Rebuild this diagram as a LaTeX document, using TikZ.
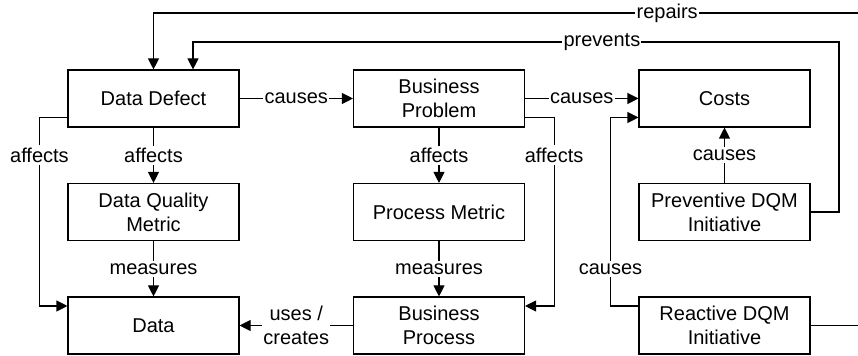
\documentclass[tikz,border=0pt]{standalone}
\usepackage{fontspec}
\setmainfont{Liberation Sans}
\usetikzlibrary{arrows.meta}
\tikzstyle{entity} = [rectangle, minimum width=85.5pt, minimum height=28.5pt, align=center, draw=black, line width=0.55pt, font=\fontsize{10}{12}\selectfont]
\tikzstyle{rel} = [fill=white, inner xsep=0.6pt, inner ysep=1.2pt, align=center, font=\fontsize{10}{12}\selectfont]
\tikzstyle{arrow} = [line width=0.55pt, -{Triangle[length=5.5pt,width=5.5pt]}]

\begin{document}
\begin{tikzpicture}[x=0.5pt, y=-0.5pt, node distance=142.75pt]
\useasboundingbox (0,0) rectangle (858,356);
\node (defect) [entity] at (153.5,98.5) {Data Defect};
\node (problem) [entity, right of=defect] {Business\\Problem};
\node (costs) [entity, right of=problem] {Costs};
\node (dqmetric) [entity, node distance=56.75pt, below of=defect] {Data Quality\\Metric};
\node (pmetric) [entity, node distance=56.75pt, below of=problem] {Process Metric};
\node (prevent) [entity, node distance=56.75pt, below of=costs] {Preventive DQM\\Initiative};
\node (data) [entity, node distance=56.75pt, below of=dqmetric] {Data};
\node (bprocess) [entity, node distance=56.75pt, below of=pmetric] {Business\\Process};
\node (react) [entity, node distance=56.75pt, below of=prevent] {Reactive DQM\\Initiative};

\draw[arrow] (defect) -- node[rel] {causes} (problem);
\draw[arrow] (problem) -- node[rel] {causes} (costs);
\draw[arrow] (defect) -- node[rel] {affects} (dqmetric);
\draw[arrow] (problem) -- node[rel] {affects} (pmetric);
\draw[arrow] (dqmetric) -- node[rel] {measures} (data);
\draw[arrow] (pmetric) -- node[rel] {measures} (bprocess);
\draw[arrow] (bprocess) -- node[rel] {uses /\\creates} (data);
\draw[arrow] (prevent) -- node[rel] {causes} (costs);

\draw[arrow] ([yshift=-9.5pt]defect.west) -- ++(-14pt,0) |- node[rel, pos=0.1] {affects} ([yshift=9.75pt]data.west);
\draw[arrow] ([yshift=-9.5pt]problem.east) -- ++(14.5pt,0) |- node[rel, pos=0.1] {affects} ([yshift=9.75pt]bprocess.east);
\draw[arrow] ([yshift=9.75pt]react.west) -- ++(-14pt,0) |- node[rel, pos=0.098] {causes} ([yshift=-9.5pt]costs.west);

\draw[arrow] (react.east) -| (862,13) -- node[rel, pos=0.275] {repairs} (153.5,13) -- (defect.north);
\draw[arrow] (prevent.east) -| (839,42) -- node[rel, pos=0.367] {prevents} (193,42) -- ([xshift=19.75pt]defect.north);
\end{tikzpicture}
\end{document}
